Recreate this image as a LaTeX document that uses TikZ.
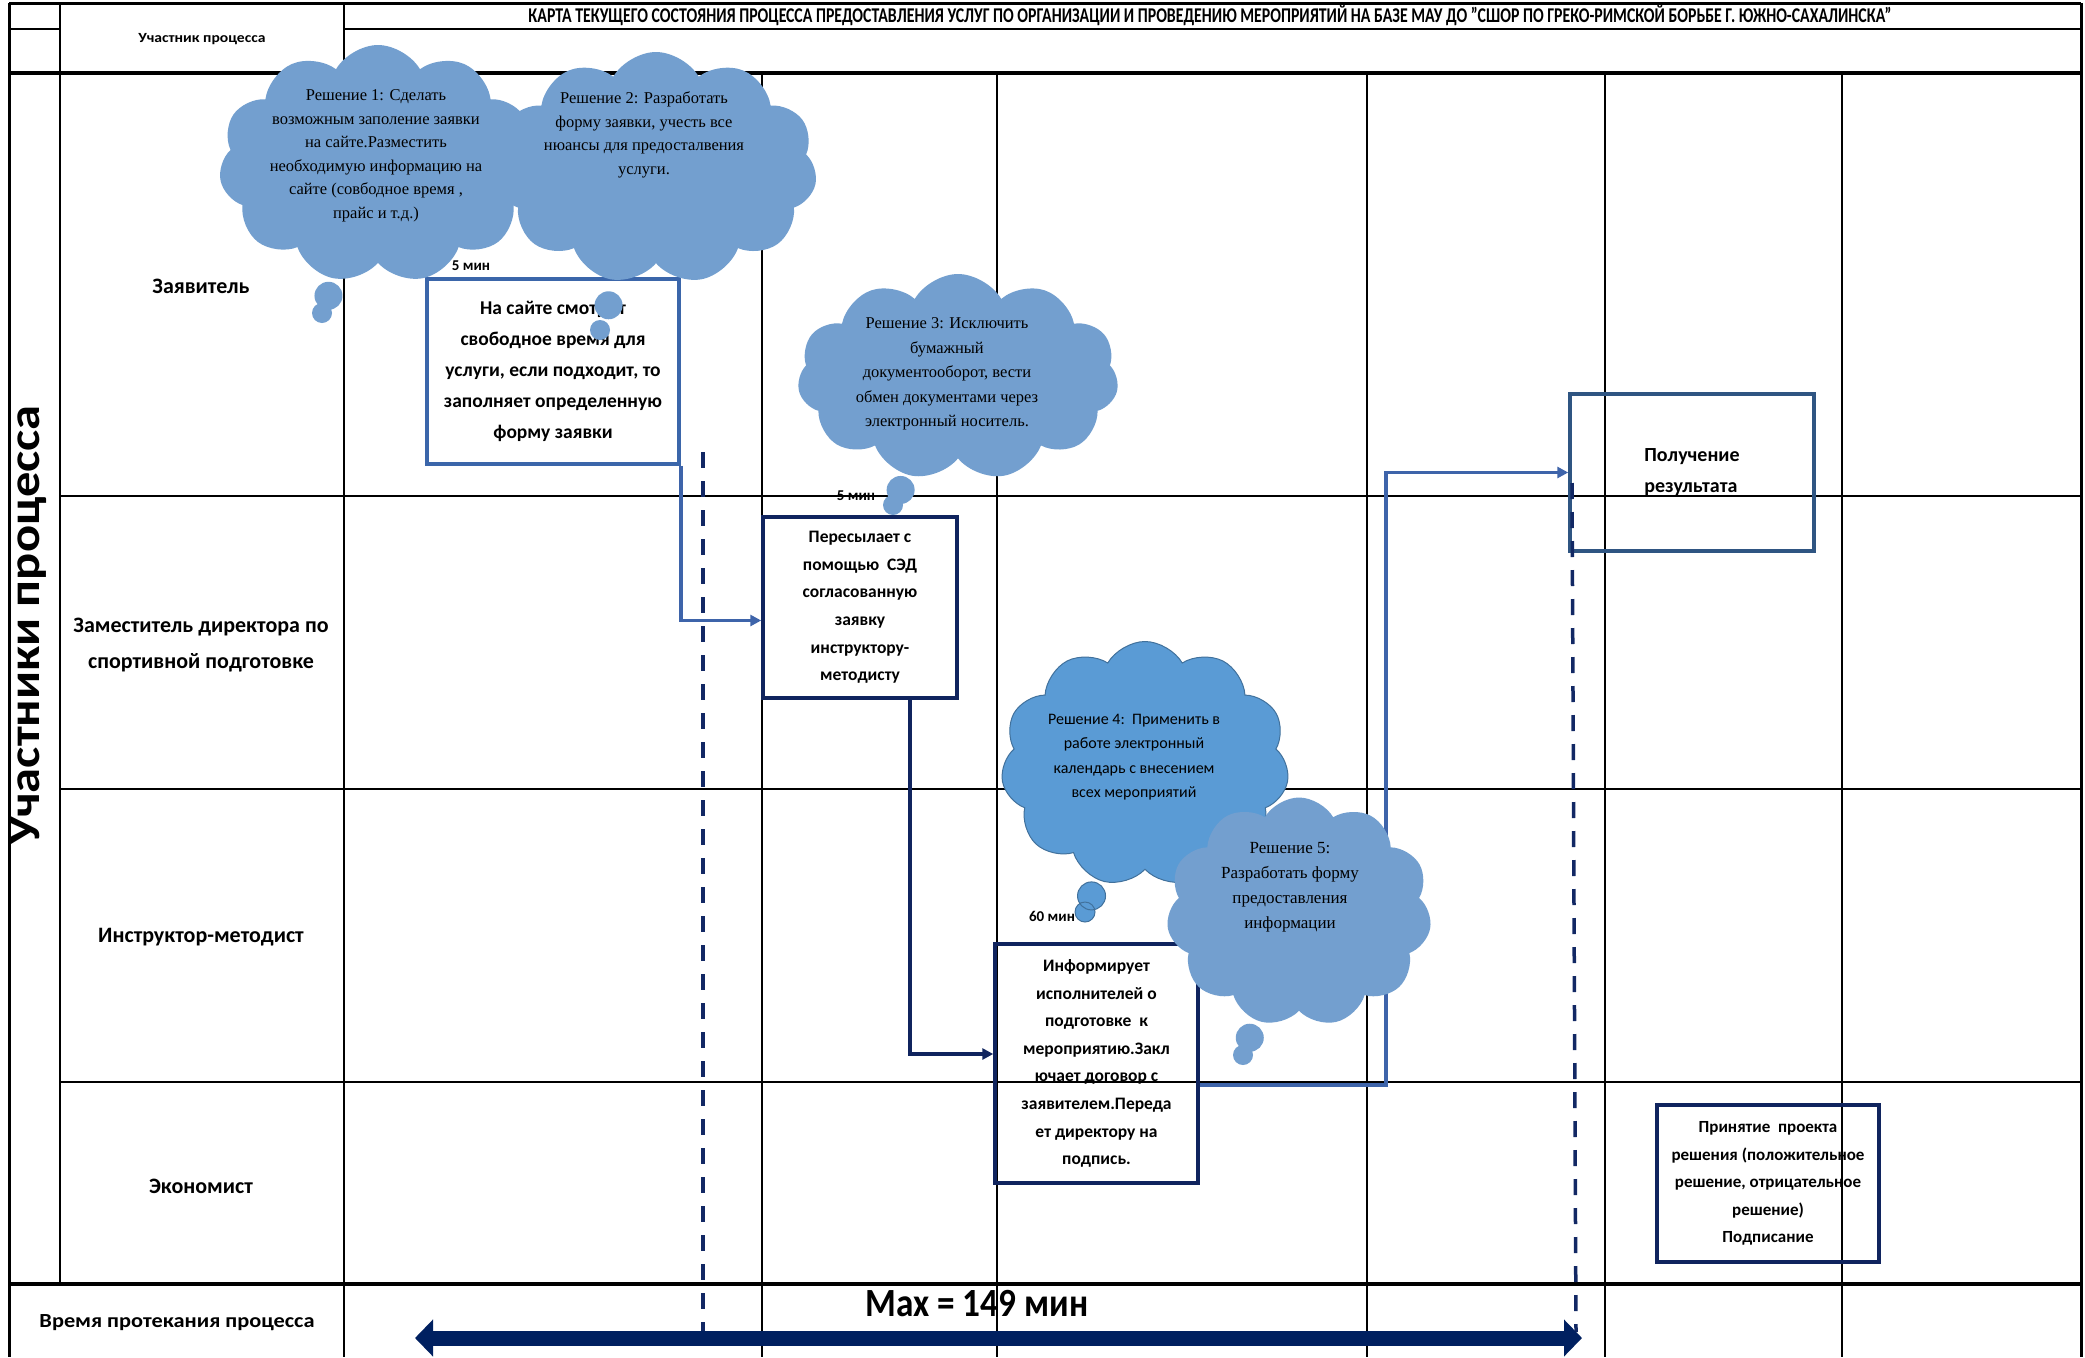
\documentclass[tikz,border=0pt]{standalone}
\usepackage{fontspec}
\usepackage{graphicx}
\setmainfont{Carlito}
\newfontfamily\seriffont{Liberation Serif}
\usetikzlibrary{shapes.symbols,shapes.callouts,arrows.meta}
\definecolor{cA}{RGB}{115,159,207}
\definecolor{cB}{RGB}{90,155,213}
\definecolor{cBline}{RGB}{65,113,156}
\definecolor{boxblue}{RGB}{59,102,170}
\definecolor{boxsteel}{RGB}{47,85,130}
\definecolor{navy}{RGB}{16,36,94}
\definecolor{linkblue}{RGB}{62,100,170}
\definecolor{dashnavy}{RGB}{18,40,100}
\definecolor{arrownavy}{RGB}{0,32,96}
\begin{document}
\begin{tikzpicture}[x=1pt,y=-1pt,
  gridline/.style={black,line width=2pt},
  gridthick/.style={black,line width=4pt},
  border/.style={black,line width=3pt},
  lane/.style={font=\fontsize{22}{36}\selectfont\bfseries,align=center,inner sep=0pt},
  proc/.style={draw,line width=3.5pt,align=center,inner sep=0pt,font=\fontsize{17.5}{27.6}\selectfont\bfseries},
  timelabel/.style={font=\fontsize{15}{15}\selectfont\bfseries,inner sep=0pt},
  cloudbase/.style={cloud callout,cloud puffs=11,cloud puff arc=120,cloud ignores aspect,inner sep=0pt,
     callout pointer segments=2,callout pointer start size=28pt and 36pt,callout pointer end size=17pt and 20pt},
  cloudlight/.style={cloudbase,fill=cA},
  clouddark/.style={cloudbase,fill=cB,draw=cBline,line width=1pt},
  cloudserif/.style={font=\seriffont\fontsize{16.5}{23.5}\selectfont,align=center,inner sep=0pt},
  cloudsans/.style={font=\fontsize{16}{24.5}\selectfont,align=center,inner sep=0pt},
  link/.style={linkblue,line width=3.5pt,-{Triangle[length=11pt,width=11pt]}},
  linknavy/.style={navy,line width=3.5pt,-{Triangle[length=11pt,width=11pt]}},
  dashv/.style={dashnavy,line width=3.5pt,dash pattern=on 16pt off 13pt}
]
\useasboundingbox (0,0) rectangle (2085,1357);
\fill[white] (0,0) rectangle (2085,1357);
% grid
\draw[border] (9,3) -- (2081,3);
\draw[gridline] (9,29) -- (60,29);
\draw[gridline] (344,29) -- (2081,29);
\draw[gridthick] (9,73) -- (2081,73);
\draw[gridline] (60,496) -- (2081,496);
\draw[gridline] (60,789) -- (2081,789);
\draw[gridline] (60,1082) -- (2081,1082);
\draw[gridthick] (9,1284) -- (2081,1284);
\draw[border] (9,3) -- (9,1357);
\draw[gridline] (60,3) -- (60,1284);
\draw[gridline] (344,3) -- (344,1357);
\draw[gridline] (762,73) -- (762,1357);
\draw[gridline] (997,73) -- (997,1357);
\draw[gridline] (1367,73) -- (1367,1357);
\draw[gridline] (1605,73) -- (1605,1357);
\draw[gridline] (1842,73) -- (1842,1357);
\draw[border] (2081,3) -- (2081,1357);
% header texts
\node[inner sep=0pt] (title) at (1210,16) {\resizebox{1363pt}{\height}{\fontsize{21}{21}\selectfont\bfseries КАРТА ТЕКУЩЕГО СОСТОЯНИЯ ПРОЦЕССА ПРЕДОСТАВЛЕНИЯ УСЛУГ ПО ОРГАНИЗАЦИИ И ПРОВЕДЕНИЮ МЕРОПРИЯТИЙ НА БАЗЕ МАУ ДО "СШОР ПО ГРЕКО-РИМСКОЙ БОРЬБЕ Г. ЮЖНО-САХАЛИНСКА"}};
\node[inner sep=0pt] (hdr) at (202,39) {\resizebox{127pt}{\height}{\fontsize{14}{14}\selectfont\bfseries Участник процесса}};
\node[inner sep=0pt,rotate=90] (vlabel) at (29,625) {\resizebox{439pt}{\height}{\fontsize{44}{44}\selectfont\bfseries Участники процесса}};
% lanes
\node[lane] (lane1) at (201,286) {Заявитель};
\node[lane] (lane2) at (201,645) {Заместитель директора по\\спортивной подготовке};
\node[lane] (lane3) at (201,937) {Инструктор-методист};
\node[lane] (lane4) at (201,1186) {Экономист};
\node[inner sep=0pt] (lane5) at (177,1323) {\resizebox{275pt}{\height}{\fontsize{20}{20}\selectfont\bfseries Время протекания процесса}};
% process boxes
\node[proc,draw=boxblue,minimum width=252pt,minimum height=185pt,font=\fontsize{19.5}{31}\selectfont\bfseries] (box1) at (553,371.5) {На сайте смотрит\\свободное время для\\услуги, если подходит, то\\заполняет определенную\\форму заявки};
\node[proc,draw=navy,minimum width=194pt,minimum height=181pt] (box2) at (860,607.5) {Пересылает с\\помощью~~СЭД\\согласованную\\заявку\\инструктору-\\методисту};
\node[proc,draw=navy,minimum width=203pt,minimum height=239pt] (box3) at (1096.5,1063.5) {Информирует\\исполнителей~о\\подготовке~~к\\мероприятию.Закл\\ючает договор~с\\заявителем.Переда\\ет директору на\\подпись.};
\node[proc,draw=boxsteel,minimum width=244pt,minimum height=157pt,align=left,font=\fontsize{20}{31}\selectfont\bfseries] (box4) at (1692,472.5) {Получение\\результата};
\node[proc,draw=navy,minimum width=222pt,minimum height=157pt,font=\fontsize{17}{27.6}\selectfont\bfseries] (box5) at (1768,1183.5) {Принятие~~проекта\\решения (положительное\\решение, отрицательное\\решение)\\Подписание};
% connectors
\coordinate (bend) at (1386,1085);
\draw[link] (box1.south east) |- ([yshift=-13pt]box2.west);
\draw[linknavy] ([xshift=50pt]box2.south) |- ([yshift=9.5pt]box3.west);
\draw[link] ([yshift=-21.5pt]box3.east) -- (bend) |- (box4.west);
% dashed time markers
\coordinate (d1t) at (703,452);
\coordinate (d1b) at (703,1332);
\coordinate (d2t) at (1572,483);
\coordinate (d2b) at (1576,1332);
\draw[dashv] (d1t) -- (d1b);
\draw[dashv] (d2t) -- (d2b);
% total time arrow
\coordinate (ta) at (415,1338);
\coordinate (tb) at (1582,1338);
\draw[arrownavy,line width=15pt,{Triangle[length=18pt,width=36pt]}-{Triangle[length=18pt,width=36pt]}] (ta) -- (tb);
\node[inner sep=0pt] (maxt) at (977,1304) {\resizebox{223pt}{\height}{\fontsize{40}{40}\selectfont\bfseries Max = 149 мин}};
% clouds
\node[cloudlight,minimum width=318pt,minimum height=238pt,callout absolute pointer={(322,313)}] (cl1) at (378,164) {};
\node[cloudserif] (cl1t) at (376,156) {Решение 1: Сделать\\возможным заполение заявки\\на сайте.Разместить\\необходимую информацию на\\сайте (совбодное время ,\\прайс и т.д.)};
\node[cloudlight,minimum width=322pt,minimum height=232pt,callout absolute pointer={(600,330)}] (cl2) at (656,168) {};
\node[cloudserif] (cl2t) at (644,135) {Решение 2: Разработать\\форму заявки, учесть все\\нюансы для предосталвения\\услуги.};
\node[cloudlight,minimum width=321pt,minimum height=206pt,callout absolute pointer={(893,505)}] (cl3) at (958,377) {};
\node[cloudserif,font=\seriffont\fontsize{16.5}{24.6}\selectfont] (cl3t) at (947,374) {Решение 3: Исключить\\бумажный\\документооборот, вести\\обмен документами через\\электронный носитель.};
\node[clouddark,minimum width=288pt,minimum height=245pt,callout absolute pointer={(1085,912)}] (cl4) at (1145,764) {};
\node[cloudsans] (cl4t) at (1134,757) {Решение 4:~~Применить в\\работе электронный\\календарь с внесением\\всех мероприятий};
\node[cloudlight,minimum width=265pt,minimum height=229pt,callout absolute pointer={(1243,1055)}] (cl5) at (1299,912) {};
\node[cloudserif,font=\seriffont\fontsize{17}{25}\selectfont] (cl5t) at (1290,887) {Решение 5:\\Разработать форму\\предоставления\\информации};
% time labels
\node[timelabel] (m1) at (471,266) {5 мин};
\node[timelabel] (m2) at (856,496) {5 мин};
\node[timelabel] (m3) at (1052,916) {60 мин};
\end{tikzpicture}
\end{document}
